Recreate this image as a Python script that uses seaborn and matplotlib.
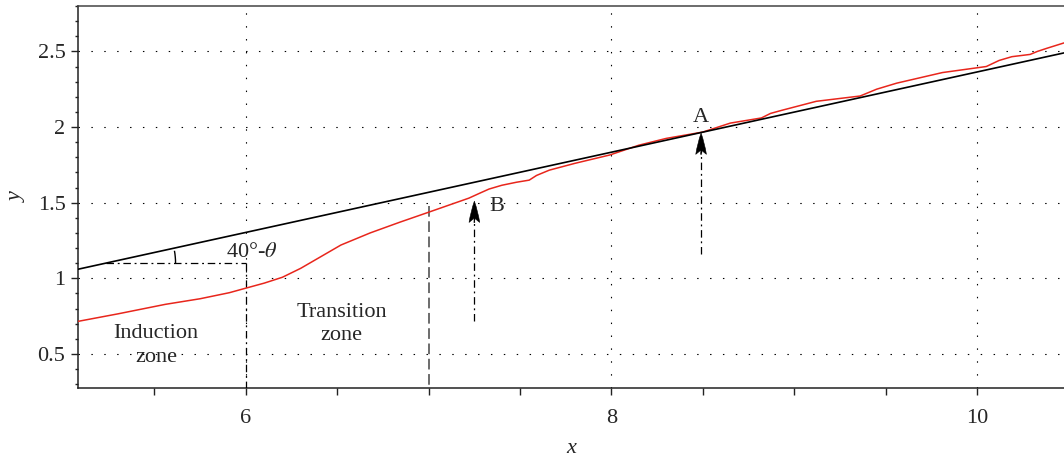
import numpy as np
import pandas as pd
import matplotlib
matplotlib.use("Agg")
import matplotlib.pyplot as plt
from matplotlib.patches import Arc
from matplotlib.ticker import MultipleLocator
import seaborn as sns

# red curve
curve_x = [5.08, 5.30, 5.56, 5.75, 5.91, 6.0, 6.10, 6.20, 6.30, 6.52, 6.68, 6.84, 7.0,
           7.22, 7.28, 7.33, 7.40, 7.48, 7.55, 7.59, 7.66, 7.80, 7.99, 8.15, 8.30, 8.50,
           8.65, 8.82, 8.87, 8.93, 9.12, 9.36, 9.45, 9.56, 9.81, 10.05, 10.12, 10.19, 10.29,
           10.33, 10.38, 10.475]
curve_y = [0.715, 0.765, 0.828, 0.865, 0.905, 0.935, 0.968, 1.007, 1.066, 1.220, 1.300, 1.370, 1.437,
           1.530, 1.563, 1.590, 1.615, 1.635, 1.649, 1.680, 1.715, 1.760, 1.815, 1.880, 1.925, 1.967,
           2.026, 2.060, 2.090, 2.110, 2.170, 2.205, 2.250, 2.290, 2.360, 2.400, 2.440, 2.465, 2.480,
           2.500, 2.520, 2.556]

# straight reference line
line_x = [5.082, 10.475]
line_y = [1.060, 2.490]

x_major = [6, 8, 10]
y_major = [0.5, 1, 1.5, 2, 2.5]
y_labels = ["0.5", "1", "1.5", "2", "2.5"]

sns.set_style("ticks")
plt.rcParams["font.family"] = ["Liberation Serif", "DejaVu Serif"]
plt.rcParams["mathtext.fontset"] = "stix"

fig = plt.figure(figsize=(10.64, 4.59), dpi=100)
ax = fig.add_axes([78 / 1064, 1 - 388 / 459, 1 - 78 / 1064, (388 - 6) / 459])

df_curve = pd.DataFrame({"x": curve_x, "y": curve_y})
df_line = pd.DataFrame({"x": line_x, "y": line_y})
sns.lineplot(data=df_curve, x="x", y="y", ax=ax, color="#e8261c", lw=1.1, sort=False, zorder=4)
sns.lineplot(data=df_line, x="x", y="y", ax=ax, color="black", lw=1.2, sort=False, zorder=5)

ax.set_xlim(5.082, 10.475)
ax.set_ylim(0.275, 2.80)

# dotted grid
grid_style = dict(color="black", lw=0.8, linestyle=(0, (1.3, 10.3)), zorder=1)
for gx in x_major:
    ax.axvline(gx, **grid_style)
for gy in y_major:
    ax.axhline(gy, **grid_style)

dashdot = (0, (6, 3, 1.5, 3))
# angle construction
ax.plot([5.233, 6.0], [1.10, 1.10], color="black", lw=0.9, linestyle=dashdot, zorder=3)
ax.plot([6.0, 6.0], [1.10, 0.275], color="black", lw=0.9, linestyle=dashdot, zorder=3)
ax.add_patch(Arc((5.233, 1.10), width=2 * 70 / 183, height=2 * 70 / 151,
                 theta1=0, theta2=12.3, color="black", lw=1.0, zorder=3))
ax.text(6.03, 1.17, "40°-$\\theta$", fontsize=16, ha="center", va="center")

# zone boundary at x = 7
ax.plot([7.0, 7.0], [1.475, 0.275], color="#444444", lw=1.1, linestyle=(0, (7, 3)), zorder=3)

ax.text(5.51, 0.556, "Induction\nzone", fontsize=16, ha="center", va="center", linespacing=1.3)
ax.text(6.525, 0.70, "Transition\nzone", fontsize=16, ha="center", va="center", linespacing=1.3)

# arrows A and B
for ax_x, y0, y1, lab, lx, ly in [(7.25, 0.72, 1.51, "B", 7.37, 1.477),
                                  (8.49, 1.16, 1.96, "A", 8.49, 2.062)]:
    ax.plot([ax_x, ax_x], [y0, y1 - 0.08], color="black", lw=0.9, linestyle=dashdot, zorder=3)
    ax.annotate("", xy=(ax_x, y1), xytext=(ax_x, y1 - 0.11),
                arrowprops=dict(arrowstyle="fancy,head_length=0.9,head_width=0.45,tail_width=0.04",
                                color="black", lw=0.4, shrinkA=0, shrinkB=0, mutation_scale=17),
                zorder=6)
    ax.text(lx, ly, lab, fontsize=16, ha="center", va="center")

ax.set_xticks(x_major)
ax.set_yticks(y_major)
ax.set_yticklabels(y_labels)
ax.xaxis.set_minor_locator(MultipleLocator(0.5))
ax.yaxis.set_minor_locator(MultipleLocator(0.1))
ax.tick_params(axis="both", which="both", direction="out", color="#222222", width=1.0)
ax.tick_params(axis="x", which="major", length=5, pad=10, labelsize=16)
ax.tick_params(axis="x", which="minor", length=5)
ax.tick_params(axis="y", which="major", length=5, pad=4, labelsize=16)
ax.tick_params(axis="y", which="minor", length=2.5)

for side in ["left", "bottom", "top"]:
    ax.spines[side].set_visible(True)
    ax.spines[side].set_linewidth(1.1)
    ax.spines[side].set_color("#222222")
ax.spines["top"].set_color("#444444")
ax.spines["right"].set_visible(False)

ax.set_xlabel("x", fontsize=16, style="italic", labelpad=8)
ax.set_ylabel("y", fontsize=16, style="italic", labelpad=8)

fig.savefig("out.png", dpi=100)
